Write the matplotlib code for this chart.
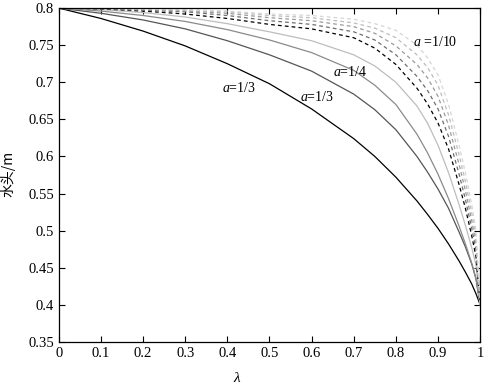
import matplotlib
matplotlib.use("Agg")
import matplotlib.pyplot as plt

plt.rcParams['font.family'] = ['Liberation Serif', 'Noto Sans CJK SC', 'DejaVu Sans']
plt.rcParams['mathtext.fontset'] = 'custom'
plt.rcParams['mathtext.rm'] = 'Liberation Serif'
plt.rcParams['mathtext.it'] = 'Liberation Serif:italic'

lam = [0, 0.1, 0.2, 0.3, 0.4, 0.5, 0.6, 0.7, 0.75, 0.8, 0.85, 0.875, 0.9, 0.925, 0.95, 0.965, 0.98, 0.99, 1.0]

# head (m) for a = 1/2 ... 1/10
h_a2 = [0.800, 0.786, 0.769, 0.749, 0.725, 0.698, 0.664, 0.624, 0.600, 0.572, 0.540, 0.522, 0.503, 0.482, 0.459, 0.444, 0.428, 0.415, 0.400]
h_a3 = [0.800, 0.793, 0.784, 0.772, 0.756, 0.737, 0.715, 0.684, 0.663, 0.636, 0.600, 0.579, 0.556, 0.530, 0.498, 0.478, 0.455, 0.435, 0.400]
h_a4 = [0.800, 0.796, 0.790, 0.782, 0.771, 0.757, 0.740, 0.716, 0.696, 0.670, 0.630, 0.605, 0.576, 0.543, 0.506, 0.482, 0.456, 0.436, 0.400]
h_a5 = [0.800, 0.798, 0.794, 0.788, 0.779, 0.768, 0.756, 0.737, 0.722, 0.700, 0.668, 0.645, 0.615, 0.578, 0.535, 0.507, 0.477, 0.454, 0.400]
h_a6 = [0.800, 0.799, 0.796, 0.792, 0.786, 0.778, 0.772, 0.760, 0.746, 0.724, 0.692, 0.671, 0.645, 0.610, 0.562, 0.530, 0.493, 0.465, 0.400]
h_a7 = [0.800, 0.799, 0.797, 0.795, 0.790, 0.783, 0.778, 0.768, 0.757, 0.737, 0.708, 0.689, 0.664, 0.627, 0.576, 0.542, 0.503, 0.474, 0.400]
h_a8 = [0.800, 0.800, 0.798, 0.796, 0.793, 0.787, 0.783, 0.775, 0.766, 0.749, 0.724, 0.706, 0.681, 0.642, 0.589, 0.554, 0.513, 0.483, 0.400]
h_a9 = [0.800, 0.800, 0.799, 0.797, 0.795, 0.790, 0.787, 0.780, 0.773, 0.760, 0.737, 0.720, 0.696, 0.656, 0.602, 0.566, 0.524, 0.491, 0.400]
h_a10 = [0.800, 0.800, 0.799, 0.798, 0.796, 0.792, 0.790, 0.785, 0.779, 0.770, 0.750, 0.733, 0.710, 0.670, 0.615, 0.578, 0.535, 0.500, 0.400]

curves = [h_a2, h_a3, h_a4, h_a5, h_a6, h_a7, h_a8, h_a9, h_a10]
colors = ['black', '#555555', '#8a8a8a', '#bdbdbd', 'black', '#6e6e6e', '#9a9a9a', '#bcbcbc', '#d6d6d6']
styles = ['-', '-', '-', '-', '--', '--', '--', '--', '--']

fig = plt.figure(figsize=(4.86, 3.85), dpi=100)
ax = fig.add_axes([0.121, 0.112, 0.867, 0.867])

for h, c, s in zip(curves, colors, styles):
    if s == '--':
        ax.plot(lam, h, color=c, linewidth=0.9, linestyle=s, dashes=(3, 2.5))
    else:
        ax.plot(lam, h, color=c, linewidth=0.9, linestyle=s)

ax.set_xlim(0, 1)
ax.set_ylim(0.35, 0.8)
ax.set_xticks([0, 0.1, 0.2, 0.3, 0.4, 0.5, 0.6, 0.7, 0.8, 0.9, 1])
ax.set_xticklabels(['0', '0.1', '0.2', '0.3', '0.4', '0.5', '0.6', '0.7', '0.8', '0.9', '1'])
ax.set_yticks([0.35, 0.4, 0.45, 0.5, 0.55, 0.6, 0.65, 0.7, 0.75, 0.8])
ax.set_yticklabels(['0.35', '0.4', '0.45', '0.5', '0.55', '0.6', '0.65', '0.7', '0.75', '0.8'])
ax.tick_params(direction='in', top=True, right=True, length=4, width=0.8, labelsize=10.5)
for sp in ax.spines.values():
    sp.set_linewidth(0.9)

# curve labels
ax.text(0.3875, 0.692, r'$a$=1/3', fontsize=10, ha='left', va='center')
ax.text(0.5727, 0.680, r'$a$=1/3', fontsize=10, ha='left', va='center')
ax.text(0.651, 0.714, r'$a$=1/4', fontsize=10, ha='left', va='center')
ax.text(0.841, 0.754, r'$a$ =1/10', fontsize=10, ha='left', va='center')

fig.text(237 / 486, 1 - 378 / 385, r'$\lambda$', fontsize=11, ha='center', va='center')
fig.text(8 / 486, 1 - 174 / 385, '水头/m', fontsize=10, rotation=90, ha='center', va='center',
         family=['Noto Sans CJK SC', 'DejaVu Sans'])

fig.savefig('out.png', dpi=100)
